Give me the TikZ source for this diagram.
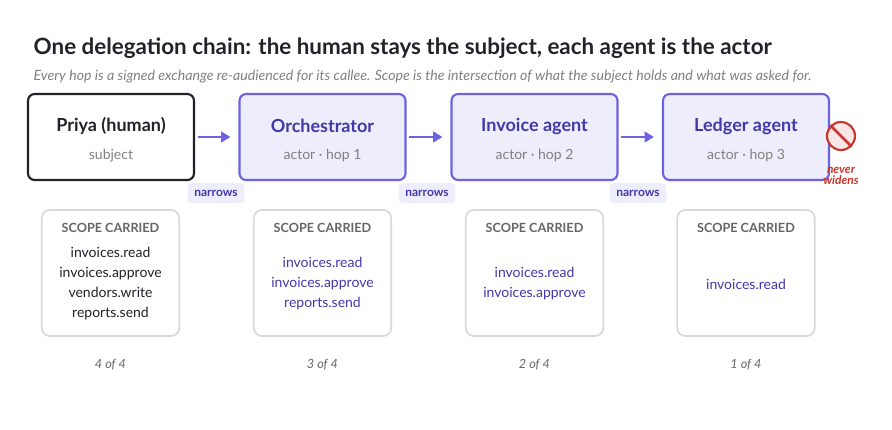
\documentclass[tikz,border=0pt]{standalone}
\usepackage{fontspec}
\setmainfont{Lato}
\usetikzlibrary{arrows.meta}
\begin{document}
\begin{tikzpicture}[x=0.75pt,y=-0.75pt,
 hop/.style={draw=#1,line width=1.6pt,rounded corners=5pt,minimum width=124.5pt,minimum height=64.5pt},
 scope/.style={draw=black!15,line width=1.3pt,rounded corners=6pt,minimum width=103pt,minimum height=94.5pt,fill=white},
 tag/.style={fill=lav,text=ink,rounded corners=3pt,font=\bfseries\fontsize{9}{10}\selectfont,inner xsep=5pt,minimum height=15pt},
 arr/.style={-{Triangle[length=7pt,width=8pt]},draw=arrc,line width=2pt},
 ttl/.style={font=\bfseries\fontsize{13.5}{15}\selectfont},
 sub/.style={text=gray,font=\fontsize{10.5}{12}\selectfont},
 cnt/.style={text=gray!80!black,font=\itshape\fontsize{9.5}{11}\selectfont},
 sc/.style={align=center,font=\fontsize{10.5}{15}\selectfont}]
\definecolor{arrc}{HTML}{6C63E0}
\definecolor{ink}{HTML}{4338A8}
\definecolor{lav}{HTML}{EEEDFB}
\definecolor{dark}{HTML}{222228}
\definecolor{redc}{HTML}{C8372D}
\useasboundingbox (0,0) rectangle (892,429);
\node[anchor=west,font=\bfseries\fontsize{16.8}{19}\selectfont,text=dark] (title) at (29,48) {One delegation chain: the human stays the subject, each agent is the actor};
\node[anchor=west,text=gray,font=\itshape\fontsize{10.6}{12}\selectfont] (subt) at (29,77) {Every hop is a signed exchange re-audienced for its callee. Scope is the intersection of what the subject holds and what was asked for.};
\node[hop=dark,fill=white] (h0) at (111,137) {};
\node[hop=arrc,fill=lav] (h1) at (322.5,137) {};
\node[hop=arrc,fill=lav] (h2) at (534.5,137) {};
\node[hop=arrc,fill=lav] (h3) at (746,137) {};
\node[ttl,text=dark] (t0) at (111,126) {Priya (human)};
\node[sub] (s0) at (111,156) {subject};
\node[ttl,text=ink] (t1) at (322.5,126) {Orchestrator};
\node[sub] (s1) at (322.5,156) {actor · hop 1};
\node[ttl,text=ink] (t2) at (534.5,126) {Invoice agent};
\node[sub] (s2) at (534.5,156) {actor · hop 2};
\node[ttl,text=ink] (t3) at (746,126) {Ledger agent};
\node[sub] (s3) at (746,156) {actor · hop 3};
\draw[arr] ([xshift=2]h0.east) -- ([xshift=-6]h1.west);
\draw[arr] ([xshift=2]h1.east) -- ([xshift=-6]h2.west);
\draw[arr] ([xshift=2]h2.east) -- ([xshift=-6]h3.west);
\node[tag] (n1) at (216,193) {narrows};
\node[tag] (n2) at (427,193) {narrows};
\node[tag] (n3) at (638,193) {narrows};
\node[circle,draw=redc,fill=redc!12,line width=1.6pt,minimum size=21pt,inner sep=0] (no) at (841,136) {};
\draw[redc,line width=2pt] (no.135) -- (no.-45);
\node[text=redc,font=\bfseries\itshape\fontsize{9}{10}\selectfont,align=center] (nw) at (841,176) {never\\[-2pt]widens};
\foreach \i/\x in {0/110.5,1/322.5,2/534.5,3/746}{
 \node[scope] (b\i) at (\x,273) {};
 \node[text=gray!80!black,font=\bfseries\fontsize{9.5}{10}\selectfont] (c\i) at (\x,228) {SCOPE CARRIED};
}
\node[sc,text=dark] (l0) at (110.5,284) {invoices.read\\invoices.approve\\vendors.write\\reports.send};
\node[sc,text=ink] (l1) at (322.5,284) {invoices.read\\invoices.approve\\reports.send};
\node[sc,text=ink] (l2) at (534.5,284) {invoices.read\\invoices.approve};
\node[sc,text=ink] (l3) at (746,284) {invoices.read};
\node[cnt] (k0) at (110.5,365) {4 of 4};
\node[cnt] (k1) at (322.5,365) {3 of 4};
\node[cnt] (k2) at (534.5,365) {2 of 4};
\node[cnt] (k3) at (746,365) {1 of 4};
\end{tikzpicture}
\end{document}
